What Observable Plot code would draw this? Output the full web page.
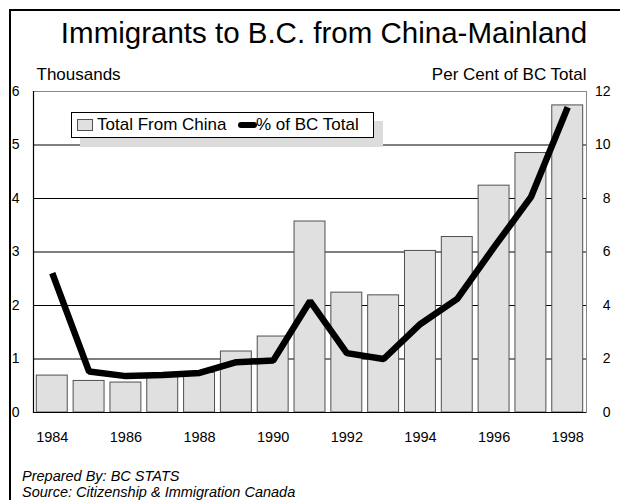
<!DOCTYPE html>
<html>
<head>
<meta charset="utf-8">
<script src="https://cdn.jsdelivr.net/npm/d3@7"></script>
<script src="https://cdn.jsdelivr.net/npm/@observablehq/plot@0.6"></script>
<style>
  html, body { margin: 0; padding: 0; background: #fff; }
  #page { position: relative; width: 620px; height: 500px; overflow: hidden; font-family: "Liberation Sans", Arial, sans-serif; }
  #frame { position: absolute; left: 9px; top: 9px; width: 640px; height: 520px; border-left: 2px solid #000; border-top: 2px solid #000; }
  #title { position: absolute; left: 0; width: 648px; top: 18px; text-align: center; font-size: 29.5px; line-height: 30px; color: #000; white-space: nowrap; }
  #chart { position: absolute; left: 0; top: 62px; }
  #legend { position: absolute; left: 71px; top: 112px; width: 301px; height: 24px; border: 1px solid #000; background: #fff; box-shadow: 9px 9px 0 #dcdcdc; font-size: 17px; line-height: 24px; white-space: nowrap; }
  #legend .sw { position: absolute; left: 5px; top: 6px; width: 14px; height: 10px; background: #e0e0e0; border: 1px solid #505050; }
  #legend .t1 { position: absolute; left: 25px; top: 0; }
  #legend .ln { position: absolute; left: 166px; top: 9px; width: 19px; height: 6px; background: #000; border-radius: 3px; }
  #legend .t2 { position: absolute; left: 184px; top: 0; }
  #footer { position: absolute; left: 22px; top: 468px; font-size: 14.5px; line-height: 16px; font-style: italic; }
</style>
</head>
<body>
<div id="page">
  <div id="frame"></div>
  <div id="title">Immigrants to B.C. from China-Mainland</div>
  <div id="chart"></div>
  <div id="legend"><span class="sw"></span><span class="t1">Total From China</span><span class="ln"></span><span class="t2">% of BC Total</span></div>
  <div id="footer">Prepared By: BC STATS<br>Source: Citizenship &amp; Immigration Canada</div>
</div>
<script>
const years = [1984, 1985, 1986, 1987, 1988, 1989, 1990, 1991, 1992, 1993, 1994, 1995, 1996, 1997, 1998];
const totalThousands = [0.69, 0.59, 0.56, 0.70, 0.74, 1.14, 1.42, 3.57, 2.24, 2.19, 3.02, 3.28, 4.24, 4.85, 5.74];
const pctOfBC = [5.21, 1.53, 1.36, 1.40, 1.48, 1.88, 1.94, 4.16, 2.22, 2.00, 3.31, 4.25, 6.18, 8.05, 11.41];
const leftTicks = [0, 1, 2, 3, 4, 5, 6];
const gridTicks = [1, 2, 3, 4, 5];
const yearLabels = [1984, 1986, 1988, 1990, 1992, 1994, 1996, 1998];

const data = years.map((y, i) => ({year: y, total: totalThousands[i], pct: pctOfBC[i]}));

const chart = Plot.plot({
  width: 620,
  height: 400,
  marginLeft: 33,
  marginRight: 34,
  marginTop: 29,
  marginBottom: 50,
  style: {fontFamily: "Liberation Sans, Arial, sans-serif", fontSize: "14px", color: "#000", background: "transparent"},
  x: {type: "band", domain: years, paddingInner: 0.16, paddingOuter: 0.09, round: false, label: null},
  y: {domain: [0, 6], label: null},
  marks: [
    Plot.gridY(gridTicks, {stroke: "#000", strokeOpacity: 1, strokeWidth: 1}),
    Plot.frame({stroke: "#888", strokeWidth: 1}),
    Plot.barY(data, {x: "year", y: "total", fill: "#e0e0e0", stroke: "#505050", strokeWidth: 1}),
    Plot.ruleY([0], {stroke: "#000", strokeWidth: 1.2}),
    Plot.frame({anchor: "left", stroke: "#000", strokeWidth: 1.2}),
    Plot.line(data, {x: "year", y: d => d.pct / 2, stroke: "#000", strokeWidth: 6.5, strokeLinejoin: "miter", strokeLinecap: "butt"}),
    Plot.axisY(leftTicks, {anchor: "left", tickSize: 0, tickPadding: 14, fontSize: 14, tickFormat: d => String(d)}),
    Plot.axisY(leftTicks, {anchor: "right", tickSize: 0, tickPadding: 24, textAnchor: "end", tickFormat: d => String(d * 2), fontSize: 14}),
    Plot.axisX(yearLabels, {anchor: "bottom", tickSize: 0, tickPadding: 19, fontSize: 14.5, tickFormat: d => String(d)}),
    Plot.text(["Thousands"], {frameAnchor: "top-left", textAnchor: "start", lineAnchor: "bottom", dx: 3, dy: -12, fontSize: 17}),
    Plot.text(["Per Cent of BC Total"], {frameAnchor: "top-right", textAnchor: "end", lineAnchor: "bottom", dx: 0, dy: -12, fontSize: 17})
  ]
});
document.getElementById("chart").appendChild(chart);
</script>
</body>
</html>
